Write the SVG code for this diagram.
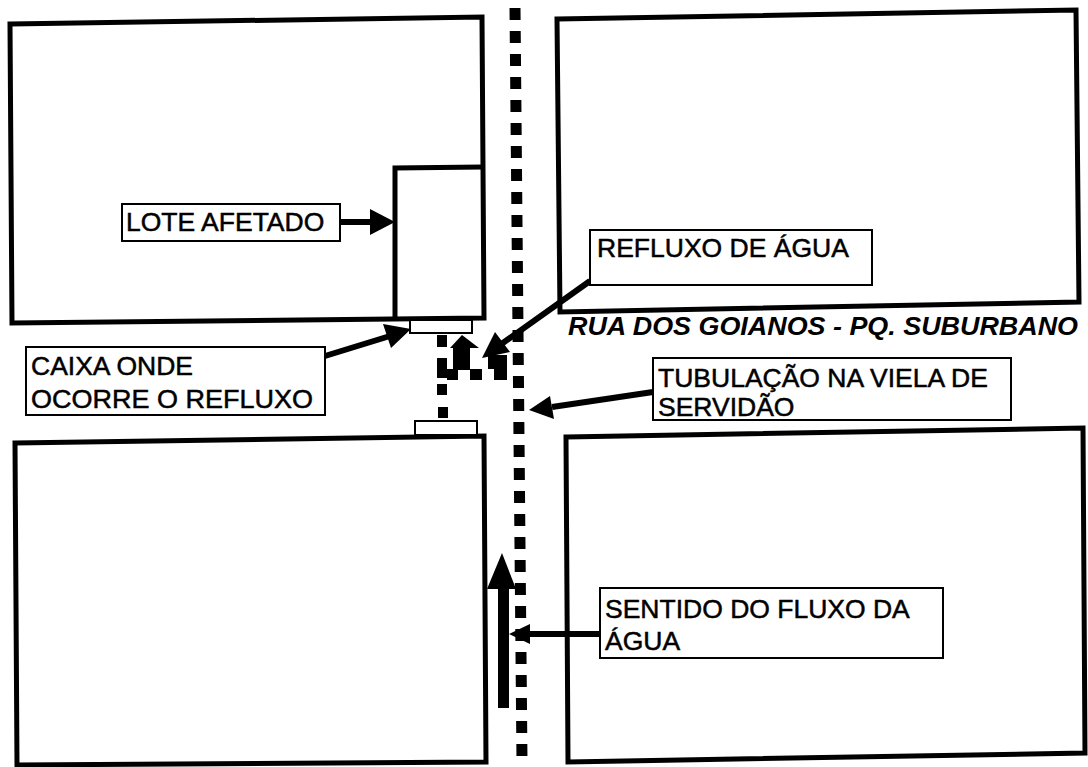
<svg xmlns="http://www.w3.org/2000/svg" width="1088" height="767" viewBox="0 0 1088 767">
<style>
.lot{fill:none;stroke:#000;stroke-width:5;stroke-linejoin:miter}
.box{fill:#fff;stroke:#000;stroke-width:2}
.lbl{font-family:"Liberation Sans",Arial,sans-serif;font-size:26.5px;fill:#000;stroke:#000;stroke-width:0.5}
.street{font-family:"Liberation Sans",Arial,sans-serif;font-size:26px;font-weight:bold;font-style:italic;fill:#000}
.ar{stroke:#000;stroke-width:6;fill:none}
.hd{fill:#000}
.pipe{stroke:#000;stroke-width:11;stroke-dasharray:12 11;fill:none}
</style>
<rect width="1088" height="767" fill="#fff"/>

<g id="lote-superior-esquerdo">
<polygon class="lot" points="10,24 482,17 484,318 12,323"/>
</g>
<g id="lote-afetado">
<polyline class="lot" points="395,320 395,168 483,167"/>
</g>
<g id="lote-superior-direito">
<polygon class="lot" points="557,19 1076,10 1079,302 560,312"/>
</g>
<g id="lote-inferior-esquerdo">
<polygon class="lot" points="15,443 484,436 486,762 17,765"/>
</g>
<g id="lote-inferior-direito">
<polygon class="lot" points="566,437 1083,428 1085,753 568,762"/>
</g>

<g id="caixa-superior">
<rect class="box" x="410" y="320" width="62" height="13"/>
</g>
<g id="caixa-inferior">
<rect class="box" x="415" y="421" width="62" height="14"/>
</g>

<g id="tubulacao">
<line class="pipe" x1="515" y1="8" x2="522" y2="762"/>
<rect x="437" y="335" width="10" height="12"/>
<rect x="437" y="358" width="10" height="20"/>
<rect x="437" y="384" width="10" height="11"/>
<rect x="438" y="407" width="10" height="11"/>
<rect x="447" y="369" width="11" height="11"/>
<rect x="470" y="369" width="12" height="11"/>
<rect x="494" y="369" width="13" height="11"/>
<rect x="488" y="355" width="19" height="14"/>
<rect x="453" y="346" width="17" height="24"/>
<polygon points="450,348 462,335 479,348"/>
</g>

<g id="connectors">
<line class="ar" x1="340" y1="222" x2="374" y2="222"/>
<polygon class="hd" points="370,209 395,222 370,235"/>
<line class="ar" x1="325" y1="356" x2="390" y2="336"/>
<polygon class="hd" points="383,324 411,329 391,348"/>
<line class="ar" x1="590" y1="281" x2="500" y2="345"/>
<polygon class="hd" points="482,358 495,332 510,352"/>
<line class="ar" x1="653" y1="392" x2="552" y2="407"/>
<polygon class="hd" points="529,410 550,396 554,419"/>
<line class="ar" x1="600" y1="634" x2="525" y2="634"/>
<polygon class="hd" points="509,634 530,624 530,644"/>
<rect x="498" y="585" width="11" height="123"/>
<polygon class="hd" points="487,589 502,553 516,589"/>
</g>

<g id="rotulo-lote-afetado">
<rect class="box" x="122" y="204" width="218" height="37"/>
<text class="lbl" x="126" y="231">LOTE AFETADO</text>
</g>
<g id="rotulo-caixa">
<rect class="box" x="26" y="347" width="299" height="68"/>
<text class="lbl" x="31" y="375">CAIXA ONDE</text>
<text class="lbl" x="31" y="408" textLength="282" lengthAdjust="spacingAndGlyphs">OCORRE O REFLUXO</text>
</g>
<g id="rotulo-refluxo">
<rect class="box" x="590" y="230" width="282" height="55"/>
<text class="lbl" x="597" y="257">REFLUXO DE ÁGUA</text>
</g>
<g id="rotulo-rua">
<text class="street" x="568" y="335" textLength="510" lengthAdjust="spacingAndGlyphs">RUA DOS GOIANOS - PQ. SUBURBANO</text>
</g>
<g id="rotulo-tubulacao">
<rect class="box" x="653" y="358" width="358" height="62"/>
<text class="lbl" x="658" y="387">TUBULAÇÃO NA VIELA DE</text>
<text class="lbl" x="658" y="416">SERVIDÃO</text>
</g>
<g id="rotulo-sentido">
<rect class="box" x="600" y="588" width="343" height="70"/>
<text class="lbl" x="605" y="618">SENTIDO DO FLUXO DA</text>
<text class="lbl" x="605" y="650">ÁGUA</text>
</g>
</svg>
